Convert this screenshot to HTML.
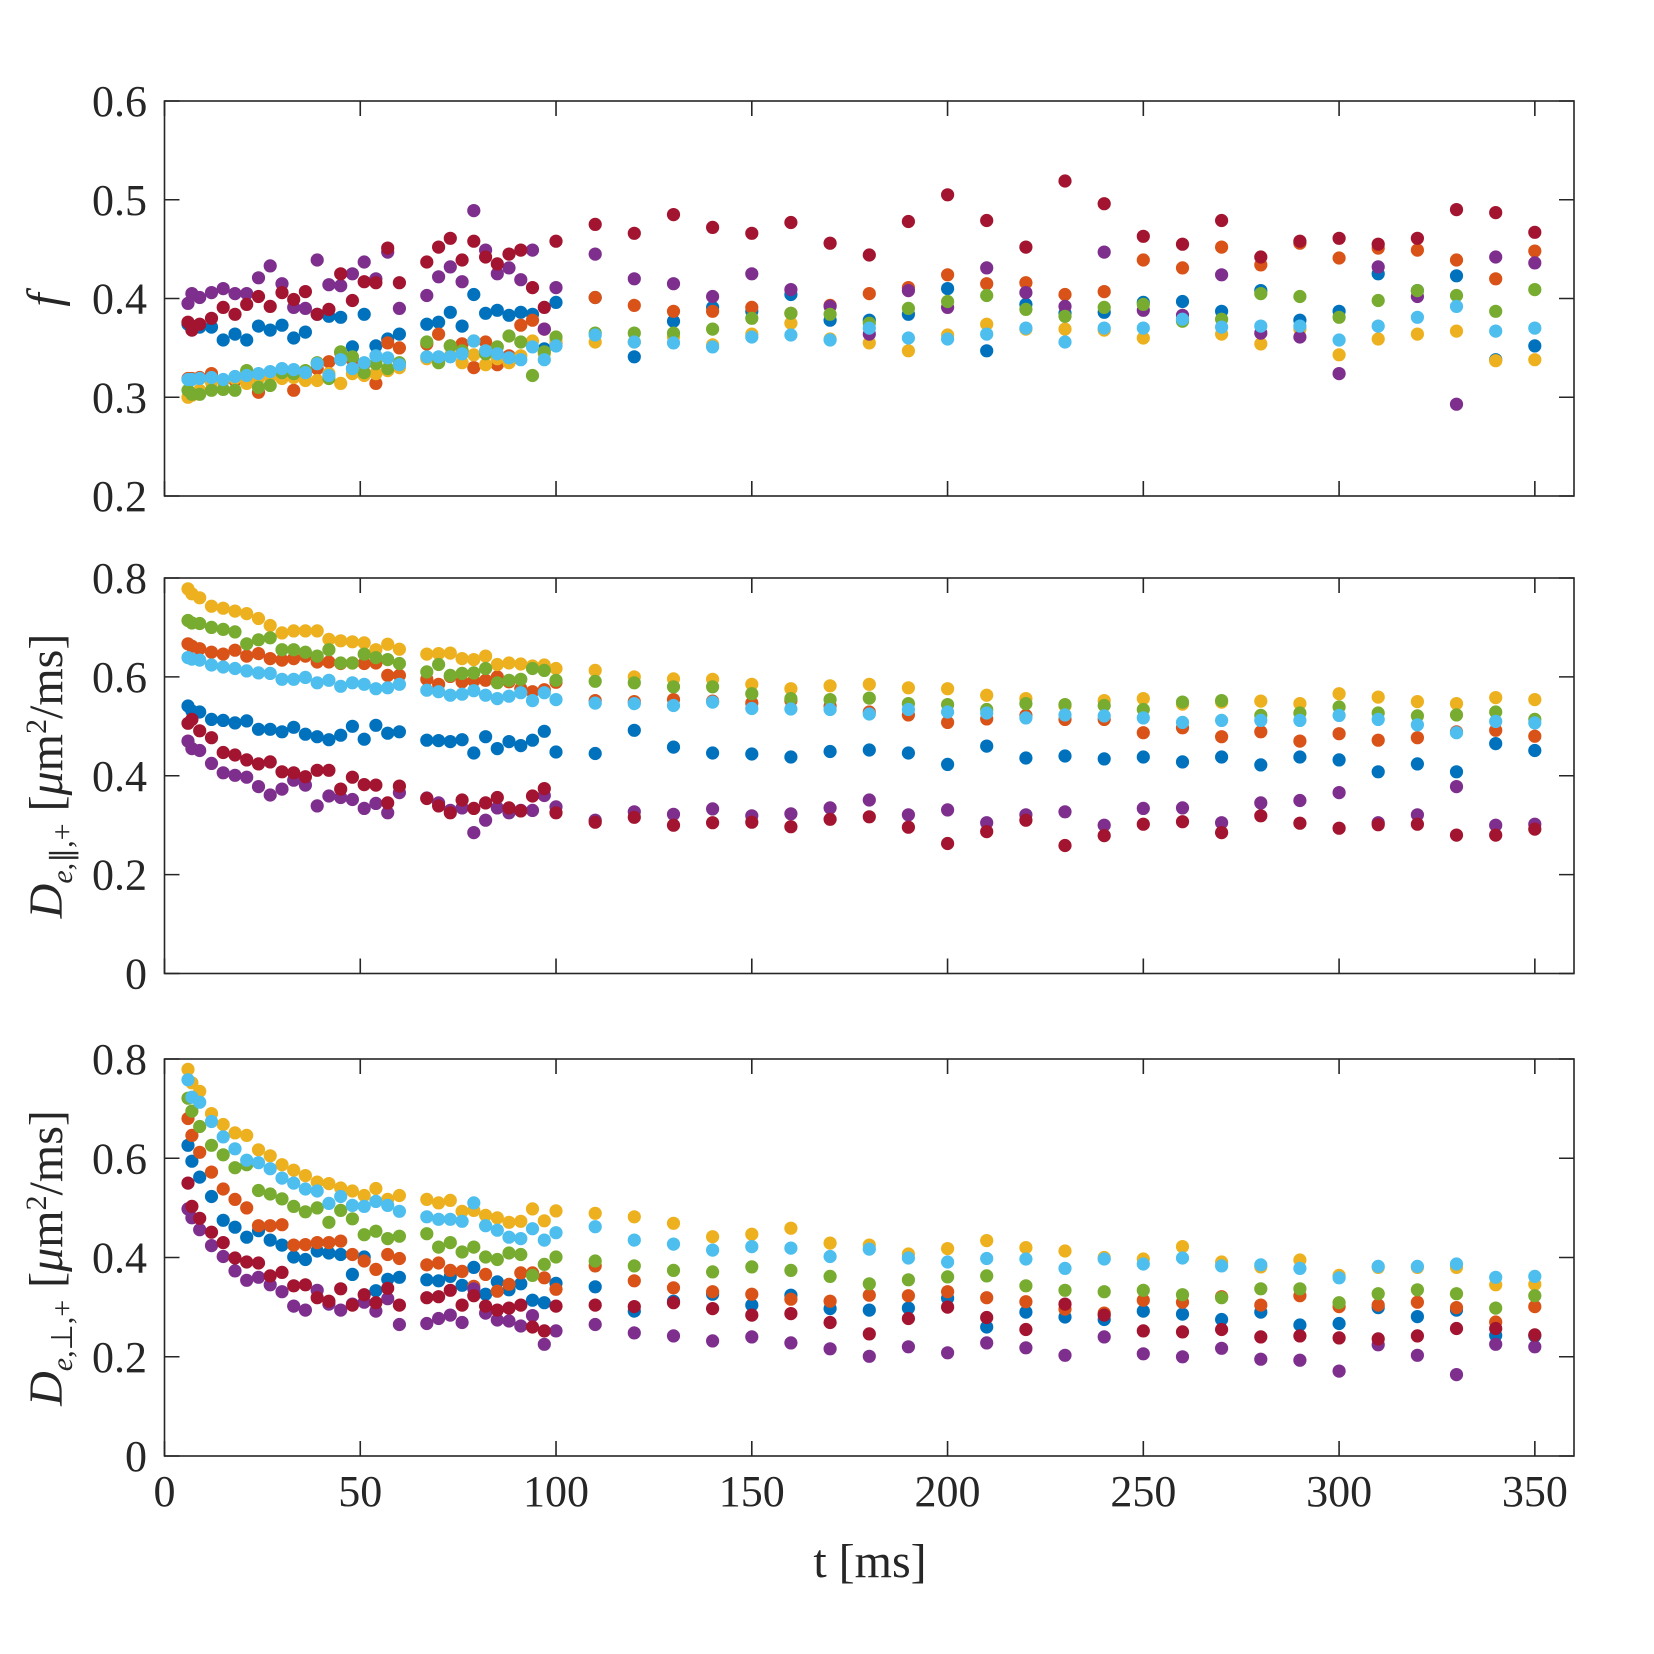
<!DOCTYPE html>
<html><head><meta charset="utf-8"><style>
html,body{margin:0;padding:0;background:#fff}
svg{display:block}
text{font-family:"Liberation Serif",serif;fill:#262626}
</style></head><body>
<svg id="chart" xmlns="http://www.w3.org/2000/svg" width="1654" height="1654" viewBox="0 0 1654 1654">
<rect width="1654" height="1654" fill="#fff"/>
<g id="layer"></g>
<text x="870" y="1577" font-size="48" text-anchor="middle">t  [ms]</text>
<text transform="translate(60,300) rotate(-90)" font-size="48" text-anchor="middle" font-style="italic">f</text>
<text transform="translate(62,776) rotate(-90)" font-size="48" text-anchor="middle"><tspan font-style="italic">D</tspan><tspan font-size="30" dy="10"><tspan font-style="italic">e</tspan>,∥,+</tspan><tspan dy="-10"> [</tspan><tspan font-style="italic">μ</tspan><tspan>m</tspan><tspan font-size="30" dy="-16">2</tspan><tspan dy="16">/ms]</tspan></text>
<text transform="translate(62,1258) rotate(-90)" font-size="48" text-anchor="middle"><tspan font-style="italic">D</tspan><tspan font-size="30" dy="10"><tspan font-style="italic">e</tspan>,⊥,+</tspan><tspan dy="-10"> [</tspan><tspan font-style="italic">μ</tspan><tspan>m</tspan><tspan font-size="30" dy="-16">2</tspan><tspan dy="16">/ms]</tspan></text>
</svg>
<script>
const times = [6,7,9,12,15,18,21,24,27,30,33,36,39,42,45,48,51,54,57,60,
 67,70,73,76,79,82,85,88,91,94,97,100,
 110,120,130,140,150,160,170,180,190,200,210,220,230,240,250,260,270,280,290,300,310,320,330,340,350];
const seriesNames = ["blue","orange","yellow","purple","green","cyan","darkred"];
const seriesColors = ["#0072BD","#D95319","#EDB120","#7E2F8E","#77AC30","#4DBEEE","#A2142F"];
const xTicks = [0,50,100,150,200,250,300,350];
const yTicksF = [0.2,0.3,0.4,0.5,0.6];
const yTicksD = [0,0.2,0.4,0.6,0.8];

const fBlue = [.374,.372,.371,.371,.358,.364,.358,.372,.368,.373,.360,.366,.384,.382,.381,.351,.384,.352,.359,.364, .374,.376,.386,.372,.404,.385,.388,.383,.386,.384,.349,.396, .401,.341,.377,.391,.387,.404,.378,.378,.384,.410,.347,.394,.385,.386,.396,.397,.387,.408,.378,.387,.425,.408,.423,.338,.352];
const fOrange = [.319,.319,.320,.324,.317,.317,.320,.305,.324,.320,.307,.324,.329,.336,.345,.338,.334,.314,.355,.350, .354,.364,.352,.354,.330,.356,.333,.342,.373,.378,.369,.355, .401,.393,.387,.387,.391,.385,.393,.405,.411,.424,.415,.416,.404,.407,.439,.431,.452,.434,.456,.441,.451,.449,.439,.420,.448];
const fYellow = [.300,.302,.307,.315,.317,.319,.314,.319,.321,.319,.320,.317,.317,.324,.314,.324,.322,.324,.327,.330, .339,.340,.342,.335,.343,.333,.339,.335,.342,.357,.344,.357, .356,.356,.361,.353,.364,.375,.359,.355,.347,.363,.374,.369,.369,.368,.360,.378,.364,.354,.369,.343,.359,.364,.367,.337,.338];
const fPurple = [.395,.405,.401,.406,.410,.405,.405,.421,.433,.415,.391,.390,.439,.414,.413,.425,.437,.420,.447,.390, .403,.422,.432,.417,.489,.449,.425,.431,.419,.449,.369,.411, .445,.420,.415,.402,.425,.409,.392,.364,.408,.391,.431,.406,.392,.447,.388,.383,.424,.365,.361,.324,.432,.402,.293,.442,.436];
const fGreen = [.307,.303,.303,.307,.308,.307,.327,.310,.312,.325,.324,.327,.335,.319,.346,.341,.325,.334,.329,.335, .356,.335,.352,.347,.357,.344,.351,.362,.356,.322,.346,.361, .365,.365,.365,.369,.380,.385,.384,.375,.390,.397,.403,.389,.382,.391,.394,.377,.379,.405,.402,.381,.398,.408,.403,.387,.409];
const fCyan = [.318,.318,.319,.320,.318,.321,.322,.324,.326,.329,.328,.325,.334,.322,.338,.329,.335,.342,.340,.333, .341,.341,.341,.344,.357,.347,.344,.340,.338,.351,.338,.352, .363,.356,.355,.351,.361,.363,.358,.370,.360,.359,.364,.370,.356,.370,.370,.379,.371,.372,.372,.358,.372,.381,.392,.367,.370];
const fDarkred = [.376,.368,.374,.380,.391,.384,.394,.402,.392,.406,.399,.407,.384,.389,.425,.398,.417,.416,.451,.416, .437,.452,.461,.439,.458,.442,.435,.445,.449,.411,.391,.458, .475,.466,.485,.472,.466,.477,.456,.444,.478,.505,.479,.452,.519,.496,.463,.455,.479,.442,.458,.461,.455,.461,.490,.487,.467];

const dParBlue = [.541,.531,.529,.514,.512,.507,.511,.494,.494,.489,.498,.484,.479,.473,.482,.500,.474,.502,.486,.489, .472,.471,.469,.473,.446,.479,.455,.469,.461,.472,.490,.448, .445,.492,.458,.446,.444,.438,.449,.452,.446,.423,.460,.436,.440,.434,.438,.428,.438,.422,.438,.432,.408,.424,.408,.465,.451];
const dParOrange = [.667,.662,.657,.650,.646,.654,.642,.647,.637,.634,.637,.642,.630,.630,.627,.628,.627,.628,.603,.603, .595,.585,.601,.590,.592,.593,.600,.590,.576,.570,.574,.589, .552,.550,.554,.551,.547,.552,.541,.529,.523,.508,.515,.522,.514,.514,.487,.497,.479,.489,.470,.485,.472,.477,.489,.492,.480];
const dParYellow = [.778,.768,.760,.743,.739,.733,.728,.718,.704,.689,.693,.693,.693,.676,.673,.671,.669,.655,.666,.656, .646,.647,.648,.637,.635,.642,.625,.628,.626,.622,.624,.617, .613,.600,.596,.595,.585,.576,.582,.585,.578,.576,.563,.556,.541,.552,.556,.545,.549,.551,.546,.566,.559,.550,.546,.558,.554];
const dParPurple = [.470,.455,.451,.425,.406,.401,.397,.378,.361,.373,.391,.381,.339,.359,.356,.352,.334,.344,.325,.366, .355,.345,.330,.335,.285,.310,.335,.325,.330,.330,.360,.337, .310,.327,.322,.333,.319,.323,.335,.351,.321,.331,.305,.321,.327,.300,.334,.335,.305,.345,.350,.366,.305,.321,.378,.300,.302];
const dParGreen = [.714,.709,.708,.700,.696,.691,.667,.675,.679,.655,.655,.650,.642,.655,.628,.628,.646,.639,.635,.627, .610,.625,.603,.607,.608,.617,.588,.593,.595,.617,.613,.593, .591,.588,.580,.580,.566,.556,.554,.557,.546,.544,.534,.546,.544,.542,.534,.549,.552,.522,.527,.539,.527,.521,.523,.529,.514];
const dParCyan = [.639,.636,.634,.624,.620,.617,.612,.608,.607,.595,.595,.599,.588,.593,.581,.588,.585,.576,.578,.585, .573,.570,.563,.565,.572,.563,.556,.561,.568,.552,.568,.554, .547,.546,.542,.549,.536,.535,.534,.525,.534,.529,.527,.517,.523,.521,.517,.508,.512,.512,.512,.522,.514,.503,.487,.510,.507];
const dParDarkred = [.506,.514,.491,.477,.447,.442,.432,.424,.428,.408,.406,.398,.411,.411,.373,.397,.382,.381,.345,.379, .354,.339,.325,.351,.334,.345,.356,.335,.329,.359,.374,.325, .306,.316,.300,.305,.306,.297,.312,.317,.296,.263,.287,.310,.259,.279,.302,.307,.285,.319,.304,.294,.301,.302,.280,.280,.292];

const dPerpBlue = [.626,.594,.562,.523,.475,.461,.441,.454,.435,.425,.401,.396,.413,.409,.406,.366,.401,.333,.356,.360, .355,.353,.362,.344,.380,.326,.351,.335,.347,.314,.309,.348, .341,.292,.312,.326,.304,.324,.297,.294,.298,.318,.260,.290,.280,.275,.292,.286,.275,.290,.264,.267,.299,.281,.294,.243,.242];
const dPerpOrange = [.680,.646,.612,.572,.538,.517,.500,.464,.464,.466,.425,.426,.430,.430,.433,.406,.393,.376,.406,.398, .385,.389,.374,.372,.342,.366,.332,.346,.369,.369,.359,.336, .383,.353,.339,.331,.326,.316,.312,.324,.323,.331,.319,.311,.296,.288,.314,.310,.321,.304,.323,.301,.304,.310,.299,.270,.301];
const dPerpYellow = [.779,.752,.735,.690,.668,.651,.646,.617,.605,.587,.576,.565,.552,.549,.540,.534,.525,.539,.517,.525, .517,.510,.515,.493,.495,.485,.480,.471,.473,.498,.474,.494, .489,.482,.469,.442,.447,.459,.429,.425,.407,.418,.434,.420,.413,.400,.397,.422,.391,.381,.395,.364,.380,.380,.380,.345,.346];
const dPerpPurple = [.498,.480,.456,.424,.402,.373,.354,.360,.345,.331,.302,.294,.334,.306,.294,.306,.310,.292,.317,.265, .267,.277,.284,.269,.337,.288,.274,.272,.262,.283,.225,.252, .265,.248,.242,.232,.240,.228,.216,.201,.220,.208,.228,.218,.203,.240,.206,.200,.217,.195,.193,.171,.224,.203,.164,.225,.220];
const dPerpGreen = [.721,.695,.664,.626,.607,.581,.587,.535,.528,.518,.503,.492,.500,.471,.495,.478,.446,.453,.438,.443, .448,.421,.430,.411,.421,.401,.396,.409,.406,.364,.386,.401, .393,.383,.374,.371,.381,.374,.362,.347,.355,.361,.363,.343,.334,.331,.334,.325,.319,.337,.337,.309,.327,.335,.327,.298,.323];
const dPerpCyan = [.758,.723,.713,.674,.643,.619,.596,.591,.579,.560,.550,.538,.534,.509,.523,.505,.503,.513,.505,.493, .482,.477,.477,.473,.510,.464,.455,.441,.438,.458,.435,.450, .462,.435,.427,.415,.422,.419,.402,.417,.399,.391,.398,.397,.378,.397,.387,.399,.383,.385,.378,.359,.382,.382,.387,.360,.362];
const dPerpDarkred = [.550,.503,.479,.451,.430,.399,.391,.389,.363,.370,.343,.345,.319,.312,.337,.304,.325,.309,.338,.304, .319,.321,.334,.304,.323,.302,.294,.298,.304,.260,.252,.302, .304,.301,.309,.297,.284,.287,.269,.246,.277,.300,.279,.255,.306,.284,.252,.250,.255,.240,.242,.238,.236,.242,.257,.257,.244];

const NS = "http://www.w3.org/2000/svg";
const layer = document.getElementById("layer");
const X0 = 164.5, X1 = 1574, XMAX = 360;
function xScale(t){ return X0 + (X1 - X0) * t / XMAX; }
function mk(tag, attrs, parent){ const e = document.createElementNS(NS, tag); for (const k in attrs) e.setAttribute(k, attrs[k]); (parent||layer).appendChild(e); return e; }

const panels = [
 {name:"f", top:101, bottom:496, ymin:0.2, ymax:0.6, ticks:yTicksF, fmt:v=>v.toFixed(1), showX:false,
  data:[fBlue,fOrange,fYellow,fPurple,fGreen,fCyan,fDarkred]},
 {name:"d-parallel", top:578, bottom:973.5, ymin:0, ymax:0.8, ticks:yTicksD, fmt:v=>v===0?"0":v.toFixed(1), showX:false,
  data:[dParBlue,dParOrange,dParYellow,dParPurple,dParGreen,dParCyan,dParDarkred]},
 {name:"d-perp", top:1059, bottom:1456, ymin:0, ymax:0.8, ticks:yTicksD, fmt:v=>v===0?"0":v.toFixed(1), showX:true,
  data:[dPerpBlue,dPerpOrange,dPerpYellow,dPerpPurple,dPerpGreen,dPerpCyan,dPerpDarkred]}
];

panels.forEach(p => {
  const yScale = v => p.bottom - (p.bottom - p.top) * (v - p.ymin) / (p.ymax - p.ymin);
  const g = mk("g", {});
  
  
  p.data.forEach((arr, si) => {
    const sg = mk("g", {fill: seriesColors[si]}, g);
    
    
    arr.forEach((v, i) => {
      const c = mk("circle", {cx: xScale(times[i]).toFixed(1), cy: yScale(v).toFixed(1), r: 6.6}, sg);
      
      
    });
  });
  const box = mk("rect", {x: X0, y: p.top, width: X1 - X0, height: p.bottom - p.top, fill: "none", stroke: "#262626", "stroke-width": 1.6}, g);
  
  
  xTicks.forEach(t => {
    const x = xScale(t);
    const tk = mk("path", {d: `M${x},${p.bottom}v-15M${x},${p.top}v15`, stroke: "#262626", "stroke-width": 1.6}, g);
    
    
    if (p.showX) {
      const lb = mk("text", {x: x, y: p.bottom + 50, "font-size": 44, "text-anchor": "middle"}, g);
      lb.textContent = String(t);
      
      
    }
  });
  p.ticks.forEach(v => {
    const y = yScale(v);
    const tk = mk("path", {d: `M${X0},${y}h15M${X1},${y}h-15`, stroke: "#262626", "stroke-width": 1.6}, g);
    
    
    const lb = mk("text", {x: 147, y: y + 15, "font-size": 44, "text-anchor": "end"}, g);
    lb.textContent = p.fmt(v);
    
    
  });
});
</script>
</body></html>
